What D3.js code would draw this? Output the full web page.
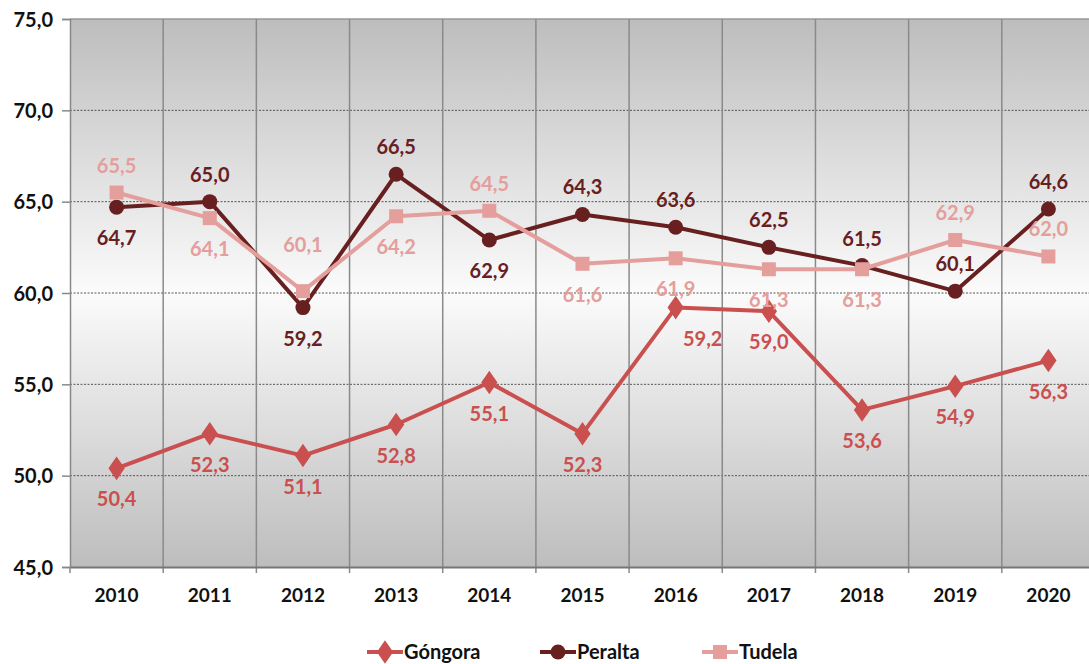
<!DOCTYPE html>
<html><head><meta charset="utf-8">
<script src="https://cdn.jsdelivr.net/npm/d3@7"></script>
<style>
body{margin:0;background:#fff;}
text{font-family:Lato,"Open Sans",sans-serif;font-weight:bold;}
</style></head>
<body><svg id="c" width="1089" height="664"></svg>
<script>
const years = ["2010","2011","2012","2013","2014","2015","2016","2017","2018","2019","2020"];
const gongora = [50.4,52.3,51.1,52.8,55.1,52.3,59.2,59.0,53.6,54.9,56.3];
const peralta = [64.7,65.0,59.2,66.5,62.9,64.3,63.6,62.5,61.5,60.1,64.6];
const tudela  = [65.5,64.1,60.1,64.2,64.5,61.6,61.9,61.3,61.3,62.9,62.0];
const yTicks = [45,50,55,60,65,70,75];
// label placement: "a" above, "b" below, "A" well above, "r" below-right
const gongoraPos = ["b","b","b","b","b","b","r","b","b","b","b"];
const peraltaPos = ["b","a","b","a","b","a","a","a","a","a","a"];
const tudelaPos  = ["a","b","A","b","a","b","b","b","b","a","a"];

const series = [
  {name:"Góngora", values:gongora, pos:gongoraPos, color:"#c9504f", shape:"diamond"},
  {name:"Peralta", values:peralta, pos:peraltaPos, color:"#67201f", shape:"circle"},
  {name:"Tudela",  values:tudela,  pos:tudelaPos,  color:"#e49e9c", shape:"square"}
];

const svg = d3.select("#c");
const L=70, R=1095, T=19, B=567;
const x = d3.scaleBand().domain(years).range([L,R]);
const y = d3.scaleLinear().domain([45,75]).range([B,T]);

const defs = svg.append("defs");
const g = defs.append("linearGradient").attr("id","bg").attr("x1",0).attr("y1",0).attr("x2",0).attr("y2",1);
g.append("stop").attr("offset","0%").attr("stop-color","#bdbdbd");
g.append("stop").attr("offset","50%").attr("stop-color","#fbfbfb");
g.append("stop").attr("offset","100%").attr("stop-color","#bdbdbd");

svg.append("rect").attr("x",L).attr("y",T).attr("width",R-L).attr("height",B-T).attr("fill","url(#bg)");

svg.append("g").selectAll("line").data(yTicks.filter(v=>v>45&&v<75)).join("line")
  .attr("x1",L).attr("x2",R).attr("y1",d=>y(d)).attr("y2",d=>y(d))
  .attr("stroke","#555").attr("stroke-width",1).attr("stroke-dasharray","2,1.5");
svg.append("line").attr("x1",L).attr("x2",R).attr("y1",T).attr("y2",T).attr("stroke","#999").attr("stroke-width",1.5);
svg.append("g").selectAll("line").data(years.slice(1)).join("line")
  .attr("x1",d=>x(d)).attr("x2",d=>x(d)).attr("y1",T).attr("y2",B+6)
  .attr("stroke","#8a8a8a").attr("stroke-width",1.5);

const ya = svg.append("g").attr("transform",`translate(${L},0)`)
  .call(d3.axisLeft(y).tickValues(yTicks).tickSize(8).tickPadding(9).tickFormat(d=>d3.format(".1f")(d).replace(".",",")));
ya.select(".domain").attr("stroke","#888").attr("stroke-width",1.5);
ya.selectAll(".tick line").attr("stroke","#888").attr("stroke-width",1.5);
ya.selectAll("text").attr("fill","#111").style("font-size","20px").attr("dy","0.35em");

const xa = svg.append("g").attr("transform",`translate(0,${B})`)
  .call(d3.axisBottom(x).tickSize(0).tickPadding(22));
xa.select(".domain").attr("stroke","#777").attr("stroke-width",2);
xa.selectAll("text").attr("fill","#111").style("font-size","19px");
svg.append("line").attr("x1",L).attr("x2",L).attr("y1",B).attr("y2",B+6).attr("stroke","#888").attr("stroke-width",1.5);

const cx = (i)=>x(years[i])+x.bandwidth()/2;
const line = d3.line().x((d,i)=>cx(i)).y(d=>y(d));

function marker(sel, shape, color){
  if(shape==="diamond") sel.append("path").attr("d",d3.symbol(d3.symbolDiamond,160)()).attr("fill",color).attr("transform","scale(1.2,1)");
  else if(shape==="circle") sel.append("circle").attr("r",7.5).attr("fill",color);
  else sel.append("rect").attr("x",-7).attr("y",-7).attr("width",14).attr("height",14).attr("fill",color);
}

const offsets = {a:[0,-27], b:[0,31], A:[0,-46], r:[27,31]};
const order = [series[1], series[2], series[0]];
order.forEach(s=>{
  svg.append("path").datum(s.values).attr("d",line).attr("fill","none").attr("stroke",s.color).attr("stroke-width",4).attr("stroke-linejoin","round");
  s.values.forEach((v,i)=>{
    const m = svg.append("g").attr("transform",`translate(${cx(i)},${y(v)})`);
    marker(m, s.shape, s.color);
  });
});
series.forEach(s=>{
  s.values.forEach((v,i)=>{
    const o = offsets[s.pos[i]];
    svg.append("text").attr("x",cx(i)+o[0]).attr("y",y(v)+o[1])
      .attr("text-anchor","middle").attr("dy","0.35em").attr("fill",s.color)
      .style("font-size","20px").text(d3.format(".1f")(v).replace(".",","));
  });
});

const leg = [{s:series[0],x:367},{s:series[1],x:540},{s:series[2],x:702}];
leg.forEach(l=>{
  const gy=652;
  svg.append("line").attr("x1",l.x).attr("x2",l.x+36).attr("y1",gy).attr("y2",gy).attr("stroke",l.s.color).attr("stroke-width",4);
  const m = svg.append("g").attr("transform",`translate(${l.x+18},${gy})`);
  marker(m,l.s.shape,l.s.color);
  svg.append("text").attr("x",l.x+37).attr("y",gy).attr("dy","0.35em").attr("fill","#111").style("font-size","20px").text(l.s.name);
});
</script></body></html>
